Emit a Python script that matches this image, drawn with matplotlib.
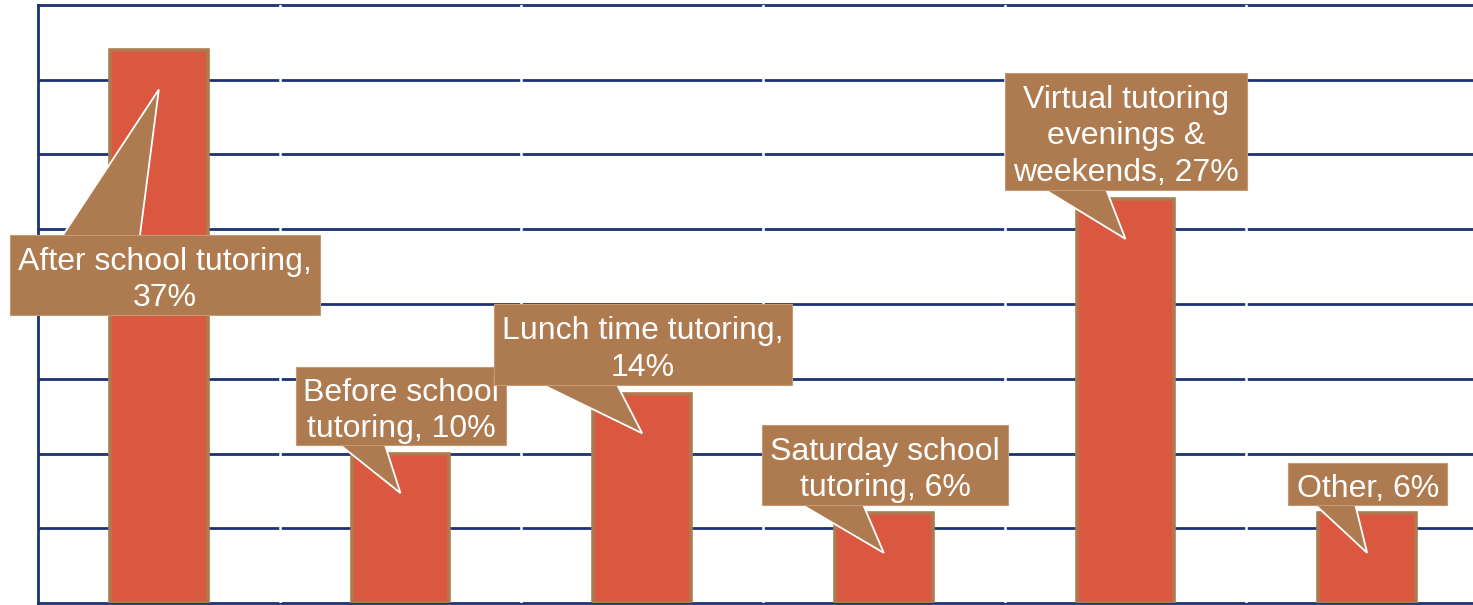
import textwrap
import matplotlib.pyplot as plt
from matplotlib.patches import Rectangle, Polygon

# data
categories = ["After school tutoring", "Before school tutoring", "Lunch time tutoring",
              "Saturday school tutoring", "Virtual tutoring evenings & weekends", "Other"]
values = [37, 10, 14, 6, 27, 6]

# callout layout (data units): box x0, x1, y0, y1 ; wedge base x pair ; wrap width
box_x = [(-0.616, 0.667), (0.568, 1.437), (1.387, 2.621), (2.497, 3.515), (3.502, 4.504), (4.674, 5.332)]
box_y = [(19.26, 24.6), (10.57, 15.79), (14.58, 20.0), (6.56, 11.91), (27.63, 35.45), (6.56, 9.36)]
base_x = [(-0.397, -0.078), (0.75, 0.936), (1.59, 1.897), (2.662, 2.915), (3.668, 3.921), (4.786, 4.951)]
wrap_w = [22, 13, 20, 15, 16, 20]
tip_drop = 2.65

bar_col = '#DA583F'
brown = '#AE7B50'
navy = '#1C3272'

plt.rcParams['font.family'] = ['Liberation Sans', 'DejaVu Sans']

fig = plt.figure(figsize=(14.73, 6.05), dpi=100)
ax = fig.add_axes([38/1473, 2/605, 1450/1473, 598/605])

x = list(range(len(values)))
ax.bar(x, values, width=0.405, color=bar_col, edgecolor=brown, linewidth=2.6, zorder=3)

ax.set_xlim(-0.5, 5.5)
ax.set_ylim(0, 40)
ax.set_yticks(range(5, 40, 5))
ax.yaxis.grid(True, color=navy, linewidth=2, zorder=1)
ax.set_axisbelow(True)
ax.tick_params(left=False, bottom=False, labelleft=False, labelbottom=False)
for s in ['left', 'top', 'bottom']:
    ax.spines[s].set_color(navy)
    ax.spines[s].set_linewidth(2)
ax.spines['right'].set_visible(False)
for b in [0.5, 1.5, 2.5, 3.5, 4.5]:
    ax.axvline(b, color='white', linewidth=1.8, zorder=2.7)

for i, (c, v) in enumerate(zip(categories, values)):
    z = 4 + i * 0.1
    x0, x1 = box_x[i]
    y0, y1 = box_y[i]
    tip = (x[i], v - tip_drop)
    # wedge attaches to the box edge nearest the tip
    ey = y1 if tip[1] > y1 else y0
    p1, p2 = (base_x[i][0], ey), (base_x[i][1], ey)
    ax.add_patch(Polygon([p1, tip, p2], closed=True, facecolor=brown, edgecolor='none',
                         zorder=z, clip_on=False))
    ax.plot([p1[0], tip[0], p2[0]], [p1[1], tip[1], p2[1]], color='white', linewidth=1.3,
            solid_joinstyle='miter', zorder=z + 0.01, clip_on=False)
    ax.add_patch(Rectangle((x0, y0), x1 - x0, y1 - y0, facecolor=brown, edgecolor='#C49A76',
                           linewidth=0.8, zorder=z + 0.02, clip_on=False))
    ax.text((x0 + x1) / 2, (y0 + y1) / 2 - 0.33, textwrap.fill(f"{c}, {v}%", wrap_w[i]),
            ha='center', va='center', color='white', fontsize=23, linespacing=1.28,
            zorder=z + 0.03, clip_on=False)

fig.savefig('out.png', dpi=100)
